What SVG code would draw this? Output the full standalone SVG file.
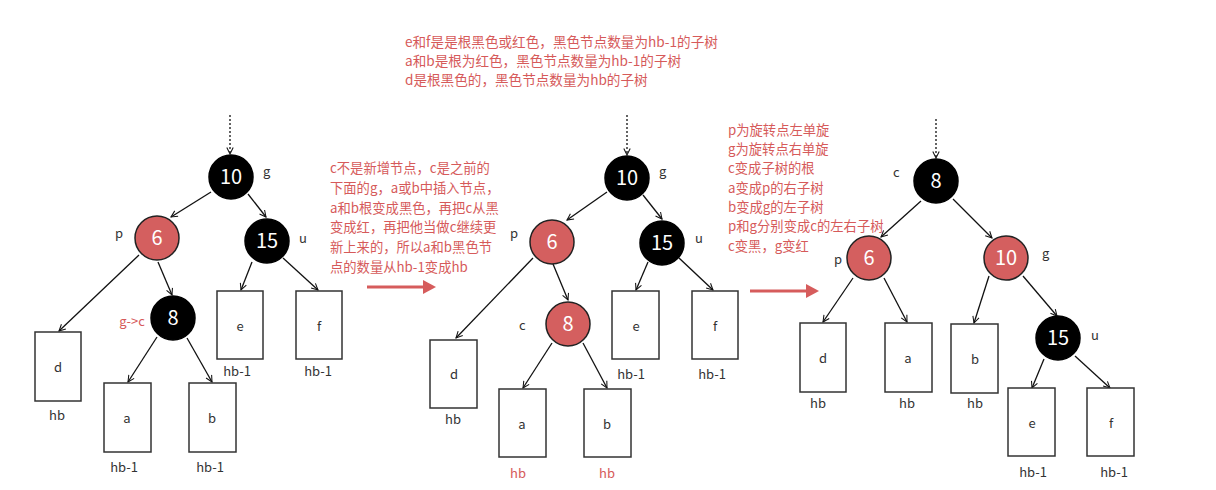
<svg xmlns="http://www.w3.org/2000/svg" width="1216" height="490" viewBox="0 0 1216 490">
<defs>
<style>
text{font-family:"Noto Sans CJK SC","Noto Sans",sans-serif;}
.note{fill:#d65a5a;font-size:13.3px;}
.top{font-size:13.6px;}
.lbl{fill:#333;font-size:13px;}
.box{fill:#fff;stroke:#333;stroke-width:1.5;}
.bk{fill:#000;stroke:#000;stroke-width:1.5;}
.rd{fill:#d45f5f;stroke:#222;stroke-width:1.5;}
.nv{fill:#fff;font-size:20px;text-anchor:middle;}
.bt{fill:#333;font-size:13px;text-anchor:middle;}
.red{fill:#d65a5a;}
.edge{stroke:#111;stroke-width:1.3;fill:none;marker-end:url(#ah);}
.dash{stroke:#111;stroke-width:1.3;fill:none;stroke-dasharray:2,2;marker-end:url(#ah);}
.big{stroke:#d65c5c;stroke-width:3;}
</style>
<marker id="ah" viewBox="0 0 10 10" refX="9" refY="5" markerWidth="8" markerHeight="8" markerUnits="userSpaceOnUse" orient="auto">
<path d="M1,1 L9,5 L1,9" fill="none" stroke="#111" stroke-width="1.3"/>
</marker>
</defs>
<rect width="1216" height="490" fill="#fff"/>

<g id="notes">
<text class="note top" x="405" y="47">e和f是是根黑色或红色，黑色节点数量为hb-1的子树</text>
<text class="note top" x="405" y="66">a和b是根为红色，黑色节点数量为hb-1的子树</text>
<text class="note top" x="405" y="85">d是根黑色的，黑色节点数量为hb的子树</text>
<text class="note" x="330" y="173">c不是新增节点，c是之前的</text>
<text class="note" x="330" y="193">下面的g，a或b中插入节点，</text>
<text class="note" x="330" y="213">a和b根变成黑色，再把c从黑</text>
<text class="note" x="330" y="232">变成红，再把他当做c继续更</text>
<text class="note" x="330" y="252">新上来的，所以a和b黑色节</text>
<text class="note" x="330" y="272">点的数量从hb-1变成hb</text>
<text class="note" x="728" y="135">p为旋转点左单旋</text>
<text class="note" x="728" y="154">g为旋转点右单旋</text>
<text class="note" x="728" y="173">c变成子树的根</text>
<text class="note" x="728" y="193">a变成p的右子树</text>
<text class="note" x="728" y="212">b变成g的左子树</text>
<text class="note" x="728" y="231">p和g分别变成c的左右子树</text>
<text class="note" x="728" y="251">c变黑，g变红</text>
</g>

<g id="connectors">
<!-- tree 1 -->
<line class="dash" x1="230" y1="115" x2="230" y2="154"/>
<line class="edge" x1="211" y1="192" x2="171" y2="217"/>
<line class="edge" x1="248" y1="194" x2="266" y2="217"/>
<line class="edge" x1="139" y1="255" x2="59" y2="331"/>
<line class="edge" x1="158" y1="262" x2="172" y2="295"/>
<line class="edge" x1="252" y1="262" x2="241" y2="290"/>
<line class="edge" x1="283" y1="258" x2="318" y2="290"/>
<line class="edge" x1="157" y1="337" x2="128" y2="382"/>
<line class="edge" x1="187" y1="338" x2="212" y2="382"/>
<!-- tree 2 -->
<line class="dash" x1="627" y1="115" x2="627" y2="155"/>
<line class="edge" x1="607" y1="192" x2="567" y2="220"/>
<line class="edge" x1="643" y1="195" x2="662" y2="219"/>
<line class="edge" x1="533" y1="258" x2="456" y2="338"/>
<line class="edge" x1="553" y1="264" x2="568" y2="300"/>
<line class="edge" x1="648" y1="262" x2="636" y2="290"/>
<line class="edge" x1="679" y1="258" x2="713" y2="290"/>
<line class="edge" x1="552" y1="343" x2="523" y2="388"/>
<line class="edge" x1="583" y1="343" x2="607" y2="388"/>
<!-- tree 3 -->
<line class="dash" x1="936" y1="119" x2="936" y2="158"/>
<line class="edge" x1="921" y1="201" x2="881" y2="237"/>
<line class="edge" x1="953" y1="199" x2="992" y2="238"/>
<line class="edge" x1="853" y1="278" x2="823" y2="322"/>
<line class="edge" x1="884" y1="278" x2="907" y2="322"/>
<line class="edge" x1="989" y1="276" x2="974" y2="323"/>
<line class="edge" x1="1023" y1="276" x2="1057" y2="316"/>
<line class="edge" x1="1044" y1="359" x2="1032" y2="388"/>
<line class="edge" x1="1075" y1="356" x2="1110" y2="388"/>
<!-- big arrows -->
<line class="big" x1="367" y1="287" x2="424" y2="287"/>
<polygon points="423,280 436,287 423,294" fill="#d65c5c"/>
<line class="big" x1="750" y1="291" x2="807" y2="291"/>
<polygon points="806,284 819,291 806,298" fill="#d65c5c"/>
</g>

<!-- Tree 1 -->
<g id="t1-n10"><circle class="bk" cx="231" cy="177" r="22"/><text class="nv" x="231" y="184">10</text><text class="lbl" x="263" y="176">g</text></g>
<g id="t1-n6"><circle class="rd" cx="157" cy="238" r="22"/><text class="nv" x="157" y="245">6</text><text class="lbl" x="115" y="238">p</text></g>
<g id="t1-n15"><circle class="bk" cx="267" cy="241" r="22"/><text class="nv" x="267" y="248">15</text><text class="lbl" x="299" y="243">u</text></g>
<g id="t1-n8"><circle class="bk" cx="173" cy="318" r="22"/><text class="nv" x="173" y="325">8</text><text x="132" y="326" font-size="13" text-anchor="middle" class="red">g-&gt;c</text></g>
<g id="t1-d"><rect class="box" x="35" y="332" width="46" height="69"/><text class="bt" x="58" y="372">d</text><text class="bt" x="57" y="420">hb</text></g>
<g id="t1-a"><rect class="box" x="104" y="383" width="47" height="69"/><text class="bt" x="127" y="423">a</text><text class="bt" x="124" y="472">hb-1</text></g>
<g id="t1-b"><rect class="box" x="189" y="383" width="47" height="69"/><text class="bt" x="212" y="423">b</text><text class="bt" x="210" y="472">hb-1</text></g>
<g id="t1-e"><rect class="box" x="217" y="291" width="46" height="68"/><text class="bt" x="240" y="331">e</text><text class="bt" x="237" y="376">hb-1</text></g>
<g id="t1-f"><rect class="box" x="296" y="291" width="46" height="68"/><text class="bt" x="319" y="331">f</text><text class="bt" x="318" y="376">hb-1</text></g>

<!-- Tree 2 -->
<g id="t2-n10"><circle class="bk" cx="627" cy="178" r="22"/><text class="nv" x="627" y="185">10</text><text class="lbl" x="659" y="176">g</text></g>
<g id="t2-n6"><circle class="rd" cx="552" cy="242" r="22"/><text class="nv" x="552" y="249">6</text><text class="lbl" x="510" y="238">p</text></g>
<g id="t2-n15"><circle class="bk" cx="662" cy="243" r="22"/><text class="nv" x="662" y="250">15</text><text class="lbl" x="695" y="243">u</text></g>
<g id="t2-n8"><circle class="rd" cx="568" cy="324" r="22"/><text class="nv" x="568" y="331">8</text><text class="lbl" x="519" y="330">c</text></g>
<g id="t2-d"><rect class="box" x="430" y="340" width="47" height="68"/><text class="bt" x="454" y="379">d</text><text class="bt" x="453" y="424">hb</text></g>
<g id="t2-a"><rect class="box" x="499" y="389" width="47" height="68"/><text class="bt" x="522" y="429">a</text><text class="red" x="518" y="478" font-size="13" text-anchor="middle">hb</text></g>
<g id="t2-b"><rect class="box" x="584" y="389" width="47" height="68"/><text class="bt" x="607" y="429">b</text><text class="red" x="607" y="478" font-size="13" text-anchor="middle">hb</text></g>
<g id="t2-e"><rect class="box" x="612" y="291" width="47" height="68"/><text class="bt" x="636" y="331">e</text><text class="bt" x="631" y="379">hb-1</text></g>
<g id="t2-f"><rect class="box" x="692" y="291" width="46" height="68"/><text class="bt" x="715" y="331">f</text><text class="bt" x="712" y="379">hb-1</text></g>

<!-- Tree 3 -->
<g id="t3-n8"><circle class="bk" cx="936" cy="181" r="22"/><text class="nv" x="936" y="188">8</text><text class="lbl" x="893" y="177">c</text></g>
<g id="t3-n6"><circle class="rd" cx="869" cy="258" r="22"/><text class="nv" x="869" y="265">6</text><text class="lbl" x="834" y="264">p</text></g>
<g id="t3-n10"><circle class="rd" cx="1006" cy="258" r="22"/><text class="nv" x="1006" y="265">10</text><text class="lbl" x="1042" y="258">g</text></g>
<g id="t3-n15"><circle class="bk" cx="1058" cy="338" r="22"/><text class="nv" x="1058" y="345">15</text><text class="lbl" x="1091" y="340">u</text></g>
<g id="t3-d"><rect class="box" x="800" y="323" width="46" height="69"/><text class="bt" x="823" y="363">d</text><text class="bt" x="818" y="408">hb</text></g>
<g id="t3-a"><rect class="box" x="885" y="323" width="47" height="69"/><text class="bt" x="908" y="363">a</text><text class="bt" x="907" y="408">hb</text></g>
<g id="t3-b"><rect class="box" x="951" y="324" width="47" height="69"/><text class="bt" x="975" y="364">b</text><text class="bt" x="975" y="408">hb</text></g>
<g id="t3-e"><rect class="box" x="1008" y="388" width="47" height="68"/><text class="bt" x="1032" y="428">e</text><text class="bt" x="1033" y="477">hb-1</text></g>
<g id="t3-f"><rect class="box" x="1087" y="388" width="47" height="68"/><text class="bt" x="1111" y="428">f</text><text class="bt" x="1114" y="477">hb-1</text></g>
</svg>
